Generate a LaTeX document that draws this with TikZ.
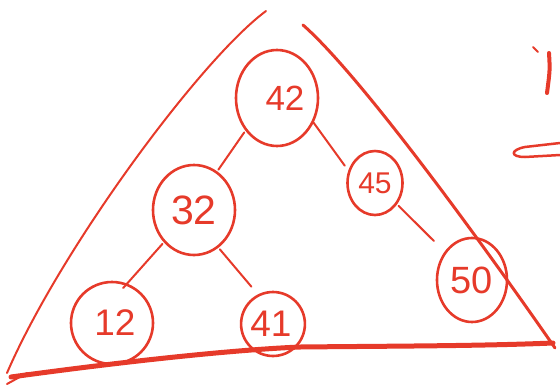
\documentclass[tikz,border=0pt]{standalone}
\usepackage{fontspec}
\setmainfont{Liberation Sans}
\usetikzlibrary{shapes.geometric}
\definecolor{pen}{HTML}{E63A2A}
\tikzset{
  bubble/.style={ellipse, draw=pen, line width=2.6pt, inner sep=0pt, text=pen},
  link/.style={draw=pen, line width=2pt, line cap=round},
  side/.style={draw=pen, line cap=round, line join=round},
}
\newcommand{\fs}[1]{\fontsize{#1}{#1}\selectfont}
\begin{document}
\begin{tikzpicture}[x=1pt,y=-1pt]
\useasboundingbox (0,0) rectangle (560,386);
% nodes
\node[bubble, minimum width=82pt, minimum height=96pt, font=\fs{35}] (n42) at (277,98) {\hspace*{16pt}42};
\node[bubble, minimum width=82pt, minimum height=90pt, font=\fs{41}] (n32) at (194,210) {\raisebox{-4pt}{32}};
\node[bubble, minimum width=55pt, minimum height=64pt, font=\fs{30}] (n45) at (375,183) {\raisebox{-3pt}{45}};
\node[bubble, minimum width=70pt, minimum height=84pt, font=\fs{38}] (n50) at (472,280) {50};
\node[bubble, minimum width=82pt, minimum height=82pt, font=\fs{37}] (n12) at (112,323) {\hspace*{6pt}\raisebox{-6pt}{12}};
\node[bubble, minimum width=62pt, minimum height=64pt, font=\fs{37}] (n41) at (273,324) {\raisebox{-6pt}{41}\hspace*{4pt}};
% connectors
\draw[link, shorten <=2pt, shorten >=2pt] (n42.-134) -- (n32.59);
\draw[link, shorten >=6pt] (n42.-34) -- (n45.155);
\draw[link, shorten <=2pt, shorten >=15pt] (n45.-44) -- (n50.134);
\draw[link, shorten <=2pt, shorten >=-6pt] (n32.-133) -- (n12.69);
\draw[link, shorten <=2pt, shorten >=10pt] (n32.-57) -- (n41.117);
% triangle
\draw[side, line width=2pt] (266,11) .. controls (200,60) and (60,250) .. (7,373);
\draw[side, line width=3pt] (303,25) .. controls (360,75) and (480,240) .. (555,348);
\draw[side, line width=5pt] (11,377) .. controls (120,362) and (230,350) .. (300,347)
      .. controls (400,346) and (480,346) .. (553,343);
\draw[side, line width=2pt] (7,384) -- (27,373);
% marks on the right
\draw[side, line width=2pt] (533,47) -- (538,52);
\draw[side, line width=4pt] (549,53) .. controls (550,70) .. (547,93);
\draw[side, line width=2.5pt] (560,143) -- (525,147) .. controls (510,150) and (510,157) .. (525,157) -- (560,155);
\end{tikzpicture}
\end{document}
